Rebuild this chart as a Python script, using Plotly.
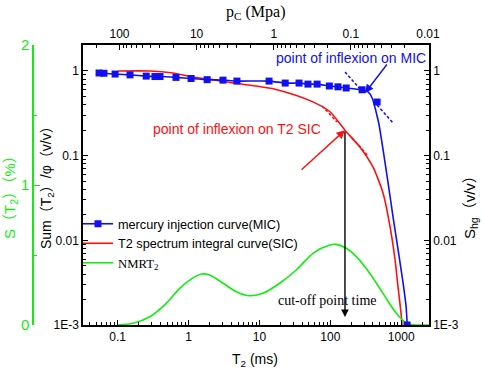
import math
import plotly.graph_objects as go

# ---------------- data ----------------
# Mercury injection curve (MIC): capillary pressure pc (MPa, top axis) vs S_hg (v/v)
mic_pc = [184, 159, 114, 73, 45, 34.7, 29.8, 18.5, 11.8, 7.3, 4.55, 3.0,
          1.15, 0.71, 0.47, 0.36, 0.274, 0.19, 0.147, 0.115, 0.0716]
mic_s = [0.947, 0.94, 0.92, 0.90, 0.87, 0.86, 0.86, 0.84, 0.815, 0.79, 0.78, 0.76,
         0.76, 0.72, 0.72, 0.70, 0.70, 0.665, 0.65, 0.63, 0.60]
# fitted MIC continuation after the inflexion
mic_tail_pc = [0.0716, 0.0598, 0.053, 0.0485, 0.0457, 0.043, 0.0382, 0.0329,
               0.0284, 0.0244, 0.021, 0.0192, 0.0187, 0.0186]
mic_tail_s = [0.60, 0.565, 0.48, 0.366, 0.294, 0.23, 0.117, 0.0475,
              0.0189, 0.0077, 0.0031, 0.00163, 0.0011, 0.001]
# MIC measured points lying off the fitted line
mic_extra_pc = [0.0457, 0.0187]
mic_extra_s = [0.43, 0.001]

# T2 spectrum integral curve (SIC): T2 (ms) vs Sum(T2)/phi (v/v)
sic_t2 = [0.101, 0.286, 0.60, 1.16, 2.44, 4.25, 9.5, 16.6, 31.8, 60.8, 99,
          161, 263, 401, 555, 697, 819, 902, 994, 1026]
sic_s = [1.0, 1.0, 0.947, 0.85, 0.78, 0.72, 0.66, 0.61, 0.52, 0.42, 0.33,
         0.20, 0.126, 0.073, 0.036, 0.0144, 0.0059, 0.0028, 0.00139, 0.001]

# NMR T2 spectrum: T2 (ms) vs S(T2) (%)
nmr_t2 = [0.101, 0.165, 0.284, 0.486, 0.752, 1.04, 1.52, 1.99, 3.07, 4.72, 7.3,
          11.2, 19.3, 33.1, 57, 98, 122, 168, 233, 360, 554, 853, 1247, 1620, 2450]
nmr_s = [0, 0.012, 0.059, 0.155, 0.262, 0.321, 0.364, 0.357, 0.298, 0.238, 0.209,
         0.226, 0.298, 0.393, 0.512, 0.571, 0.576, 0.548, 0.488, 0.369, 0.226,
         0.084, 0.007, 0, 0]

# inflexion points and tangents
mic_inflex = (0.0655, 0.55)          # (pc, S_hg)
sic_inflex = (161, 0.20)             # (T2, Sum)
cutoff_bottom = 0.00124
mic_tan1_pc, mic_tan1_s = [0.119, 0.0759], [0.973, 0.612]
mic_tan2_pc, mic_tan2_s = [0.0457, 0.0284], [0.396, 0.243]
sic_tan1_t2, sic_tan1_s = [76.4, 124], [0.386, 0.25]
sic_tan2_t2, sic_tan2_s = [202, 331], [0.162, 0.102]

t2_ticks = [0.1, 1, 10, 100, 1000]
t2_ticktext = ["0.1", "1", "10", "100", "1000"]
pc_ticks = [100, 10, 1, 0.1, 0.01]
pc_ticktext = ["100", "10", "1", "0.1", "0.01"]
s_ticks = [0.001, 0.01, 0.1, 1]
s_ticktext = ["1E-3", "0.01", "0.1", "1"]
g_ticks = [0, 1, 2]

# ---------------- styling ----------------
BLUE = "#1010F0"
RED = "#FF1010"
GREEN = "#10EE10"
SANS = "Arial, 'Liberation Sans', 'Noto Sans CJK SC', sans-serif"
SERIF = "'Times New Roman', 'Liberation Serif', serif"

W, H = 484, 372
L, R, T, B = 20, 55, 45, 47
PW, PH = W - L - R, H - T - B


def px(x):
    return (x - L) / PW


def py(y):
    return (H - B - y) / PH


def minor_log(lo, hi):
    vals = []
    for e in range(lo, hi + 1):
        for m in range(2, 10):
            vals.append(m * 10 ** e)
    return vals


fig = go.Figure()

# NMR T2 (green, own axis)
fig.add_trace(go.Scatter(x=nmr_t2, y=nmr_s, xaxis="x", yaxis="y3", mode="lines",
                         line=dict(color=GREEN, width=1.6, shape="spline", smoothing=0.8),
                         name='<span style="font-family:Liberation Serif">NMRT<sub>2</sub></span>'))
# SIC (red)
fig.add_trace(go.Scatter(x=sic_t2, y=sic_s, xaxis="x", yaxis="y", mode="lines",
                         line=dict(color=RED, width=1.6, shape="spline", smoothing=0.6),
                         name="T2 spectrum integral curve(SIC)"))
# MIC (blue)
fig.add_trace(go.Scatter(x=mic_pc, y=mic_s, xaxis="x2", yaxis="y2", mode="lines+markers",
                         line=dict(color=BLUE, width=1.6, shape="spline", smoothing=0.5),
                         marker=dict(symbol="square", size=7, color=BLUE),
                         name="mercury injection curve(MIC)"))
fig.add_trace(go.Scatter(x=mic_tail_pc, y=mic_tail_s, xaxis="x2", yaxis="y2", mode="lines",
                         line=dict(color=BLUE, width=1.6, shape="spline", smoothing=0.5),
                         showlegend=False))
fig.add_trace(go.Scatter(x=mic_extra_pc, y=mic_extra_s, xaxis="x2", yaxis="y2", mode="markers",
                         marker=dict(symbol="square", size=7, color=BLUE), showlegend=False))
# tangents
for xs, ys in [(mic_tan1_pc, mic_tan1_s), (mic_tan2_pc, mic_tan2_s)]:
    fig.add_trace(go.Scatter(x=xs, y=ys, xaxis="x2", yaxis="y2", mode="lines",
                             line=dict(color=BLUE, width=1.5, dash="3px,2px"), showlegend=False))
for xs, ys in [(sic_tan1_t2, sic_tan1_s), (sic_tan2_t2, sic_tan2_s)]:
    fig.add_trace(go.Scatter(x=xs, y=ys, xaxis="x", yaxis="y", mode="lines",
                             line=dict(color=RED, width=1.5, dash="3px,2px"), showlegend=False))

# legend order: MIC, SIC, NMR
fig.data[2].legendrank = 1
fig.data[1].legendrank = 2
fig.data[0].legendrank = 3

ax_common = dict(showline=True, linecolor="black", linewidth=1.5, ticks="inside",
                 ticklen=5, tickwidth=1, tickcolor="black", showgrid=False, zeroline=False,
                 tickfont=dict(family=SANS, size=12, color="black"))

xdom = [px(83), 1]
fig.update_layout(
    width=W, height=H, margin=dict(l=L, r=R, t=T, b=B),
    paper_bgcolor="white", plot_bgcolor="white",
    xaxis=dict(type="log", range=[-1.488, 3.392], domain=xdom, anchor="y",
               tickvals=t2_ticks, ticktext=t2_ticktext,
               minor=dict(tickvals=minor_log(-2, 3), ticks="inside", ticklen=3,
                          tickcolor="black", showgrid=False),
               **ax_common),
    xaxis2=dict(type="log", range=[2.473, -2.013], overlaying="x", side="top", anchor="y",
                tickvals=pc_ticks, ticktext=pc_ticktext,
                minor=dict(tickvals=minor_log(-3, 2), ticks="inside", ticklen=3,
                           tickcolor="black", showgrid=False),
                **ax_common),
    yaxis=dict(type="log", range=[-3, 0.307], anchor="x", side="left",
               tickvals=s_ticks, ticktext=s_ticktext,
               minor=dict(tickvals=minor_log(-3, 0), ticks="inside", ticklen=3,
                          tickcolor="black", showgrid=False),
               **ax_common),
    yaxis2=dict(type="log", range=[-3, 0.307], anchor="x", side="right", overlaying="y",
                tickvals=s_ticks, ticktext=s_ticktext,
                minor=dict(tickvals=minor_log(-3, 0), ticks="inside", ticklen=3,
                           tickcolor="black", showgrid=False),
                **ax_common),
    yaxis3=dict(range=[0, 2], anchor="free", position=px(33), side="left", overlaying="y",
                showline=True, linecolor=GREEN, linewidth=1.5, ticks="inside", ticklen=6,
                tickwidth=1.2, tickcolor=GREEN, showgrid=False, zeroline=False,
                tickvals=g_ticks, ticktext=[str(v) for v in g_ticks],
                tickfont=dict(family=SANS, size=15, color=GREEN),
                minor=dict(tickvals=[0.5, 1.5], ticks="inside", ticklen=3,
                           tickcolor=GREEN, showgrid=False)),
    showlegend=True,
    legend=dict(x=px(78), y=py(209), xanchor="left", yanchor="top",
                bgcolor="rgba(0,0,0,0)", borderwidth=0, tracegroupgap=0,
                itemwidth=30, font=dict(family=SANS, size=12.7, color="black")),
)


def label(text, x, y, font, angle=0):
    return dict(text=text, x=px(x), y=py(y), xref="paper", yref="paper",
                xanchor="center", yanchor="middle", textangle=angle,
                showarrow=False, font=font)


ann = []
# axis titles
ann.append(label("S（T<sub>2</sub>）（%）", 10, 194, dict(family=SANS, size=15, color=GREEN), -90))
ann.append(label("Sum（T<sub>2</sub>）/φ（v/v）", 47, 184, dict(family=SANS, size=14, color="black"), -90))
ann.append(label("S<sub>hg</sub>（v/v）", 470, 204, dict(family=SANS, size=15, color="black"), -90))
ann.append(label("p<sub>C</sub> (Mpa)", 255, 13, dict(family=SERIF, size=16, color="black")))
ann.append(label("T<sub>2</sub> (ms)", 255, 360, dict(family=SANS, size=14, color="black")))
# labels
ann.append(label("point of inflexion on MIC", 351, 58, dict(family=SANS, size=14, color=BLUE)))
ann.append(label("point of inflexion on T2 SIC", 237, 129, dict(family=SANS, size=14, color=RED)))
ann.append(label("cut-off point time", 327, 300, dict(family=SERIF, size=14, color="black")))
# arrows
ann.append(dict(text="", xref="x2", yref="y2", x=math.log10(mic_inflex[0]), y=math.log10(mic_inflex[1]),
                ax=23, ay=-30, showarrow=True, arrowhead=2, arrowsize=1.2, arrowwidth=1.4,
                arrowcolor=BLUE))
ann.append(dict(text="", xref="x", yref="y", x=math.log10(sic_inflex[0]), y=math.log10(sic_inflex[1]),
                ax=-45, ay=41, showarrow=True, arrowhead=2, arrowsize=1.2, arrowwidth=1.4,
                arrowcolor=RED))
ann.append(dict(text="", xref="x", yref="y", x=math.log10(sic_inflex[0]), y=math.log10(cutoff_bottom),
                axref="x", ayref="y", ax=math.log10(sic_inflex[0]), ay=math.log10(sic_inflex[1]),
                showarrow=True, arrowhead=2, arrowsize=1.1, arrowwidth=1.4, arrowcolor="black"))
fig.update_layout(annotations=ann)

fig.write_html("out.html", config={"displayModeBar": False},
               post_script="document.body.style.margin='0px';")
